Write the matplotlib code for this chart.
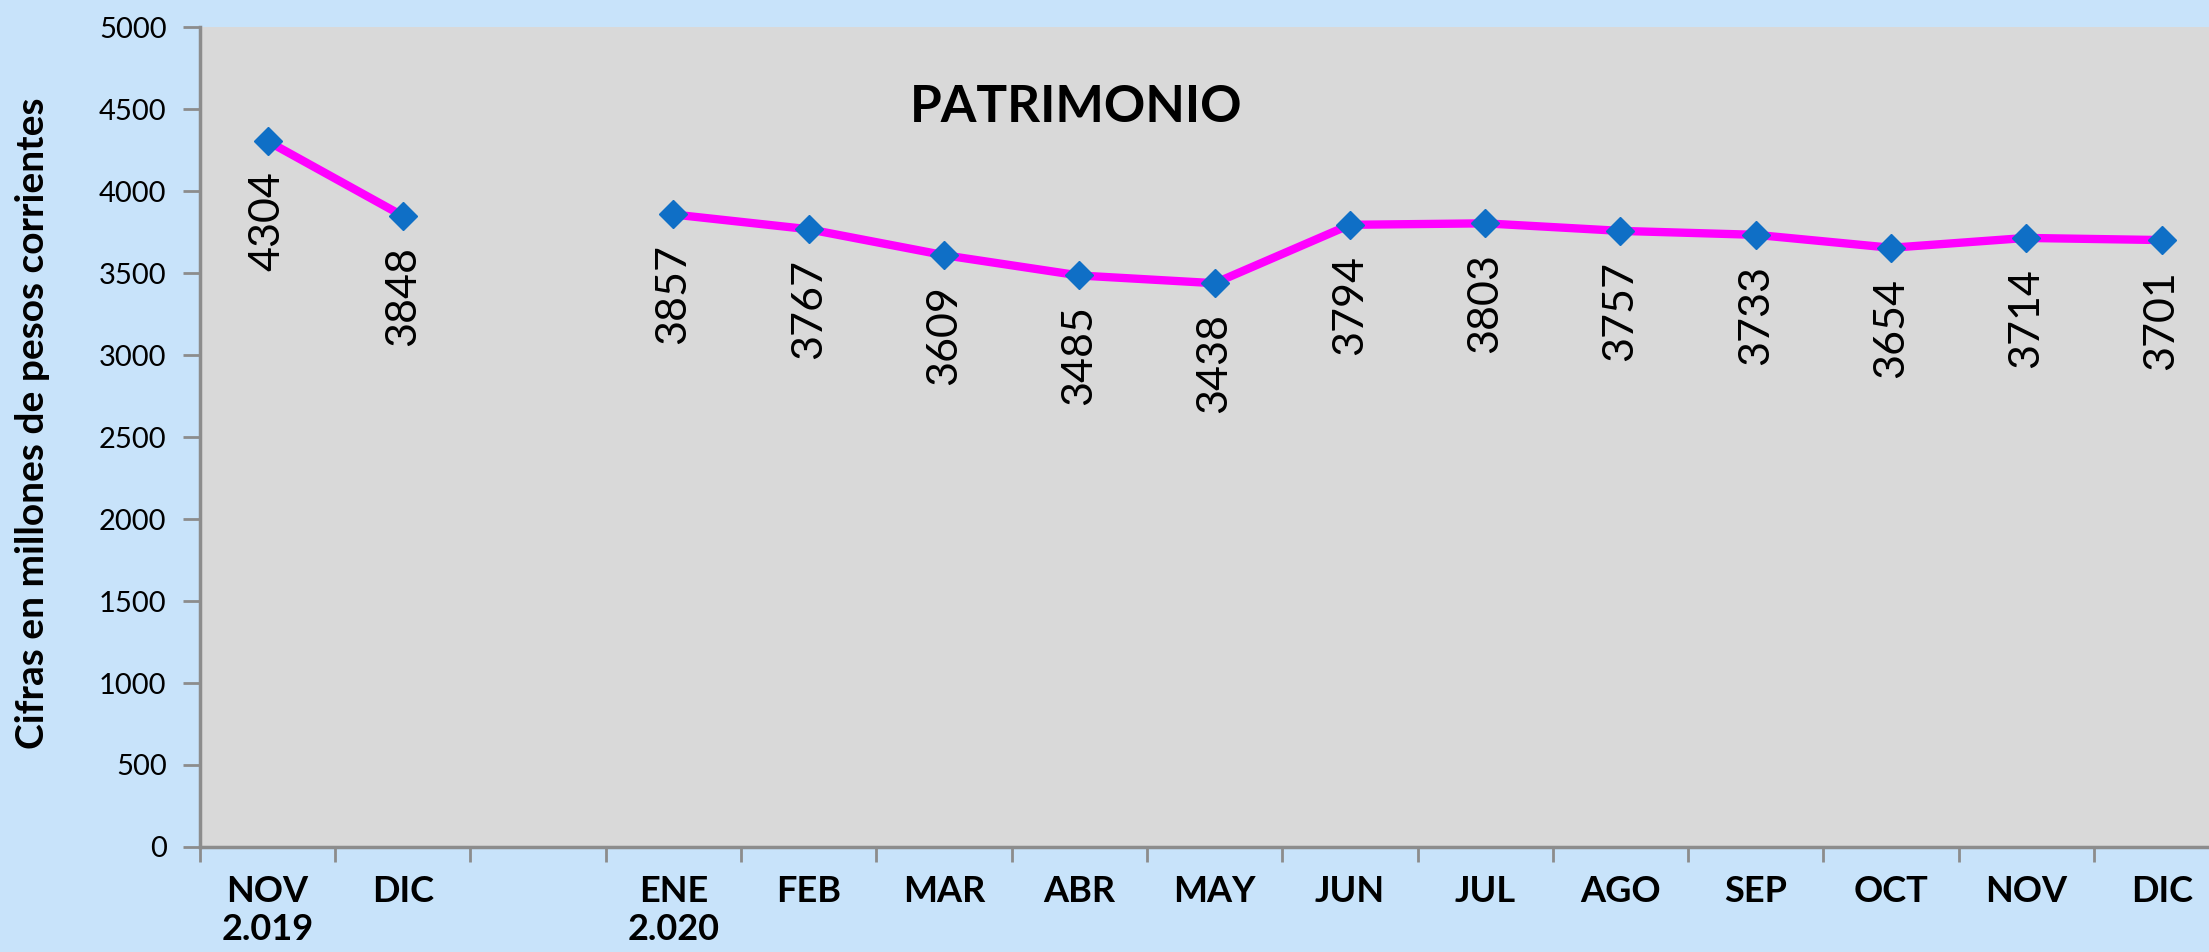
#!/usr/bin/env python3
"""Patrimonio - monthly series, Nov 2019 to Dec 2020."""

import numpy as np
import matplotlib
matplotlib.use("Agg")
import matplotlib.pyplot as plt

# === Data ===
months = ['NOV\n2.019', 'DIC', '', 'ENE\n2.020', 'FEB', 'MAR', 'ABR', 'MAY',
          'JUN', 'JUL', 'AGO', 'SEP', 'OCT', 'NOV', 'DIC']
patrimonio = [4304, 3848, np.nan, 3857, 3767, 3609, 3485, 3438,
              3794, 3803, 3757, 3733, 3654, 3714, 3701]
y_ticks = [0, 500, 1000, 1500, 2000, 2500, 3000, 3500, 4000, 4500, 5000]

# === Style ===
BG = '#C8E3FA'
PLOT_BG = '#D9D9D9'
LINE = '#FF00FF'
MARKER = '#0F6FC6'
AXIS = '#8C8C8C'
plt.rcParams['font.family'] = ['Lato', 'DejaVu Sans']

fig = plt.figure(figsize=(22.09, 9.52), dpi=100, facecolor=BG)
ax = fig.add_axes([0.0905, 0.1103, 0.9095, 0.8613])
ax.set_facecolor(PLOT_BG)

x = np.arange(len(months))
ax.plot(x, patrimonio, color=LINE, linewidth=6, marker='D', markersize=14,
        markerfacecolor=MARKER, markeredgecolor=MARKER, zorder=3)

# === Data labels (rotated, below each point) ===
for xi, v in zip(x, patrimonio):
    if np.isnan(v):
        continue
    ax.annotate(f"{v:.0f}", (xi, v), xytext=(0, -30), textcoords='offset pixels',
                rotation=90, ha='center', va='top', fontsize=31, color='black')

ax.text(0.436, 0.902, 'PATRIMONIO', transform=ax.transAxes, ha='center',
        va='center', fontsize=37, fontweight='bold')

# === Axes ===
ax.set_ylim(0, 5000)
ax.set_xlim(-0.5, 14.35)
ax.set_yticks(y_ticks)
ax.tick_params(axis='y', labelsize=21, length=12, width=2, color=AXIS, pad=12)

ax.set_xticks(x)
ax.set_xticklabels(months, fontsize=26, fontweight='bold', linespacing=1.2)
ax.set_xticks(np.arange(-0.5, len(months) - 0.5, 1), minor=True)
ax.tick_params(axis='x', which='major', length=0, pad=20)
ax.tick_params(axis='x', which='minor', length=11, width=2, color=AXIS)
for lbl in ax.get_xticklabels():
    lbl.set_verticalalignment('top')

for side in ('top', 'right'):
    ax.spines[side].set_visible(False)
for side in ('left', 'bottom'):
    ax.spines[side].set_color(AXIS)
    ax.spines[side].set_linewidth(2.5)

ax.set_ylabel('Cifras en millones de pesos corrientes', fontsize=28,
              fontweight='bold')
ax.yaxis.set_label_coords(-0.0747, 0.517)

fig.savefig('out.png', dpi=100, facecolor=BG)
